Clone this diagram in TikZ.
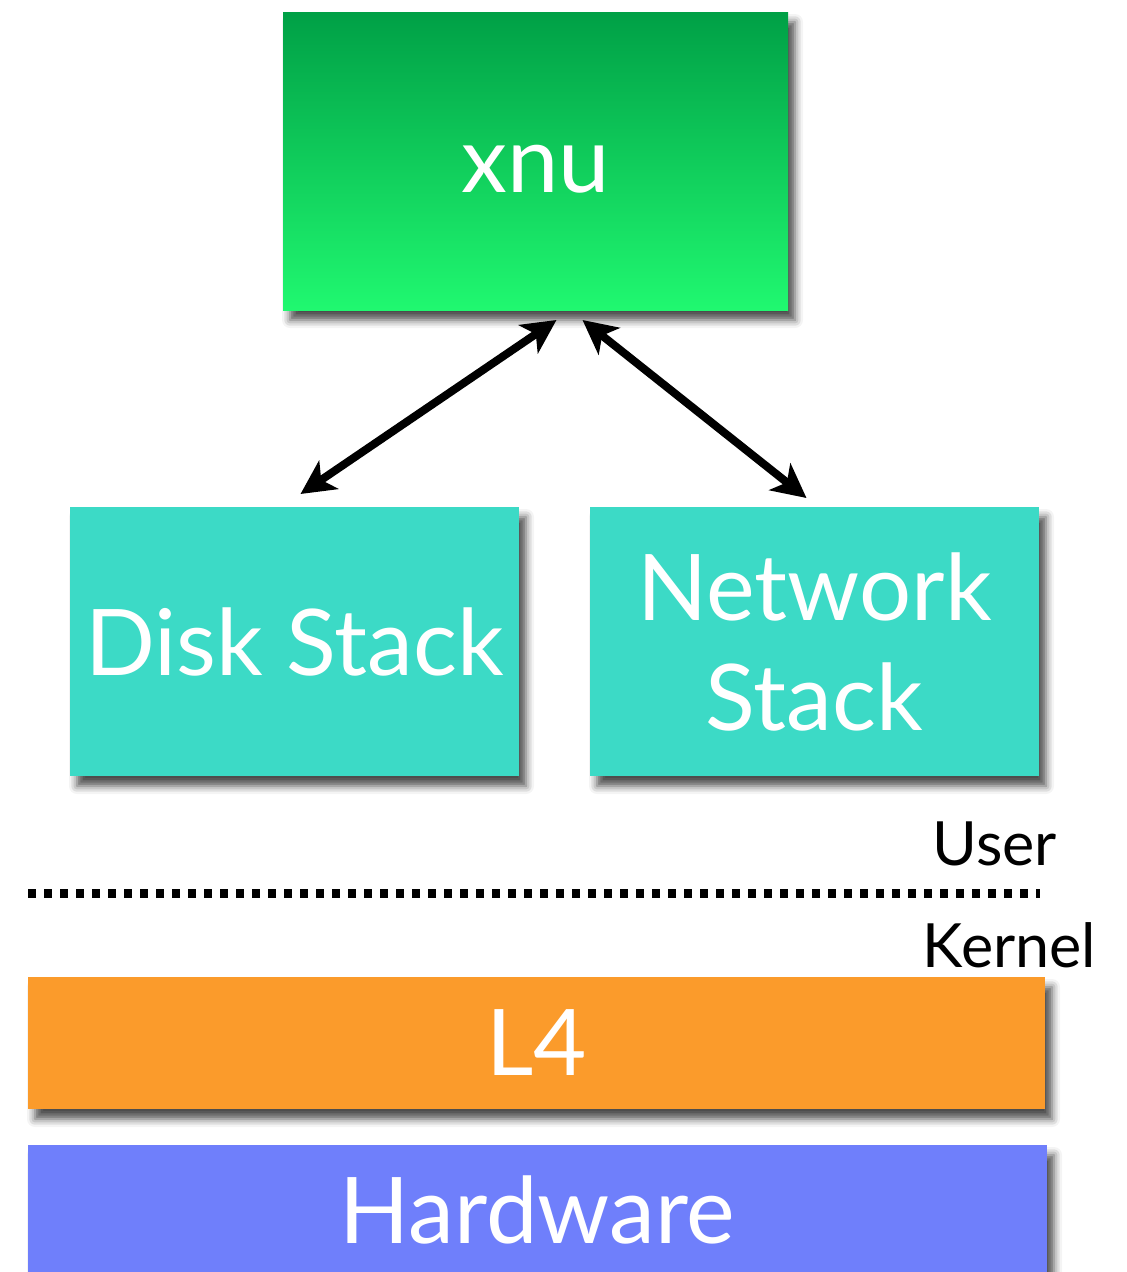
\documentclass[tikz,border=0pt]{standalone}
\usepackage{fontspec}
\setmainfont{Lato}
\usetikzlibrary{arrows.meta,shadows.blur}

\definecolor{xnutop}{RGB}{0,160,70}
\definecolor{xnubot}{RGB}{32,248,112}
\definecolor{stackcol}{RGB}{60,218,198}
\definecolor{lfourcol}{RGB}{251,155,43}
\definecolor{hwcol}{RGB}{111,127,251}

\begin{document}
\begin{tikzpicture}[x=1pt, y=-1pt, >={Stealth[length=34pt,width=34pt,inset=9pt]}, line width=8pt,
  block/.style={rectangle, inner sep=0pt, text=white, align=center,
    font=\fontsize{92}{110}\selectfont,
    blur shadow={shadow xshift=7pt, shadow yshift=-10pt, shadow blur radius=8pt, shadow opacity=70}},
  side/.style={inner sep=0pt, font=\fontsize{61}{70}\selectfont}]
  \useasboundingbox (0,0) rectangle (1127,1272);
  \clip (0,0) rectangle (1127,1272);

  \node[block, top color=xnutop, bottom color=xnubot, minimum width=505pt, minimum height=298pt, text height=62pt, text depth=0pt] (xnu) at (535.5,161) {xnu};
  \node[block, fill=stackcol, minimum width=449pt, minimum height=269pt] (disk) at (294.5,641.5) {Disk Stack};
  \node[block, fill=stackcol, minimum width=449pt, minimum height=269pt] (net) at (814.5,641.5) {Network\\Stack};

  \draw[<->] ([xshift=21pt,yshift=-6pt]xnu.south) -- ([xshift=6pt,yshift=9pt]disk.north);
  \draw[<->] ([xshift=47pt,yshift=-6pt]xnu.south) -- ([xshift=-8pt,yshift=5pt]net.north);

  % user / kernel boundary
  \node[side, anchor=base east] (user) at (1061,865) {User};
  \coordinate (sepL) at (28,893);
  \coordinate (sepR) at (1040,893);
  \draw[line width=9pt, dash pattern=on 8pt off 8pt] (sepL) -- (sepR);
  \node[side, anchor=base east] (kernel) at (1100,967) {Kernel};

  \node[block, fill=lfourcol, minimum width=1017pt, minimum height=132pt] (lfour) at (536.5,1043) {L4};
  \node[block, fill=hwcol, minimum width=1019pt, minimum height=160pt] (hw) at (537.5,1225) {};
  \node[text=white, font=\fontsize{92}{110}\selectfont, anchor=base] (hwlabel) at (537.5,1243) {Hardware};
\end{tikzpicture}
\end{document}
